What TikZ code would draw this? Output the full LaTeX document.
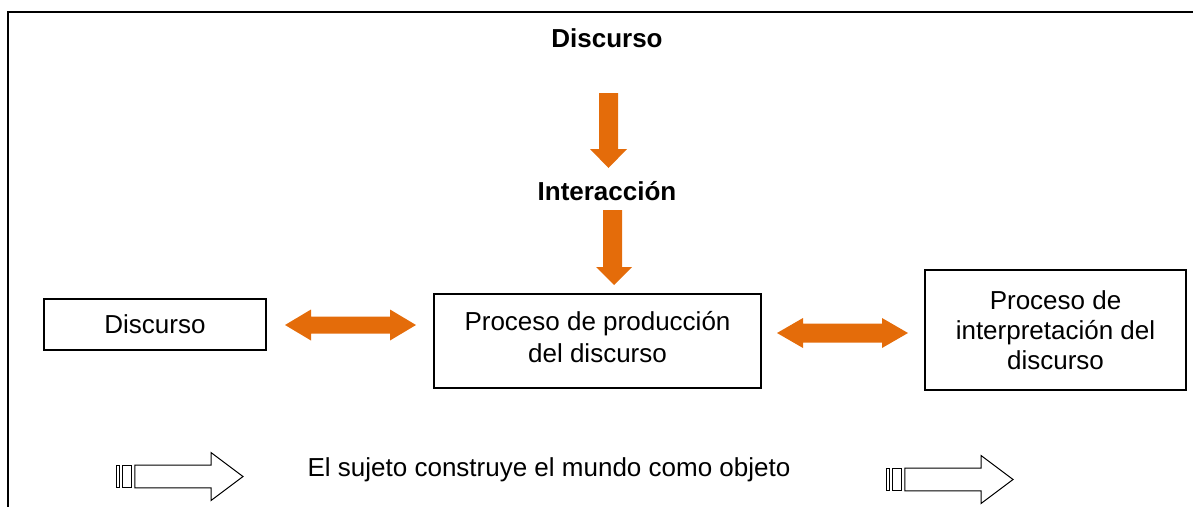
\documentclass[tikz,border=0pt]{standalone}
\usepackage{fontspec}
\setmainfont{Liberation Sans}
\definecolor{arrorange}{HTML}{E46C0A}
\begin{document}
\begin{tikzpicture}[x=1pt,y=-1pt,
  txt/.style={font=\fontsize{26}{30}\selectfont, align=center, inner sep=0pt},
  boldtxt/.style={font=\fontsize{26}{30}\selectfont\bfseries, inner sep=0pt},
  box/.style={draw, line width=1.5pt, inner sep=0pt, align=center, font=\fontsize{26}{30}\selectfont},
  fat/.style={fill=arrorange, draw=none},
  hollow/.style={draw, line width=1pt, fill=white, line join=miter},
  striped/.pic={
    \draw[hollow] (0.2,-11.3) rectangle (3.8,11.3);
    \draw[hollow] (6.5,-11.3) rectangle (15.8,11.3);
    \draw[hollow] (18.8,-11.3) -- (95,-11.3) -- (95,-24) -- (127,0) -- (95,24) -- (95,11.3) -- (18.8,11.3) -- cycle;
  }]
\useasboundingbox (0,0) rectangle (1193,506);
% frame
\draw[line width=2pt] (8,520) -- (8,12) -- (1210,12);
% texts
\node[boldtxt, anchor=base] (t1) at (607,47) {Discurso};
\node[boldtxt, anchor=base] (t2) at (607,200) {Interacción};
% boxes
\node[box, minimum width=222pt, minimum height=51pt] (b1) at (155,324.5) {Discurso};
\node[box, minimum width=327pt, minimum height=94pt] (b2) at (597.5,341) {};
\node[txt, font=\fontsize{26}{32}\selectfont] (b2t) at (597.5,337) {Proceso de producción\\del discurso};
\node[box, minimum width=261pt, minimum height=120pt] (b3) at (1055.5,330) {Proceso de\\interpretación del\\discurso};
% vertical arrows
\fill[fat] (599,93) -- (618,93) -- (618,149) -- (627,149) -- (608.5,168) -- (590,149) -- (599,149) -- cycle;
\fill[fat] (603,210) -- (622,210) -- (622,267) -- (632,267) -- (614,285) -- (596,267) -- (603,267) -- cycle;
% double arrows
\fill[fat] (285,325) -- (311,309.5) -- (311,316.5) -- (390,316.5) -- (390,309.5) -- (416,325) -- (390,340.5) -- (390,333.5) -- (311,333.5) -- (311,340.5) -- cycle;
\fill[fat] (777,333) -- (803,318) -- (803,323.5) -- (882,323.5) -- (882,318) -- (908,333) -- (882,348) -- (882,342.5) -- (803,342.5) -- (803,348) -- cycle;
% bottom
\pic at (116,476.5) {striped};
\pic at (886,479.5) {striped};
\node[txt] (t3) at (549,470) {El sujeto construye el mundo como objeto};
\end{tikzpicture}
\end{document}
